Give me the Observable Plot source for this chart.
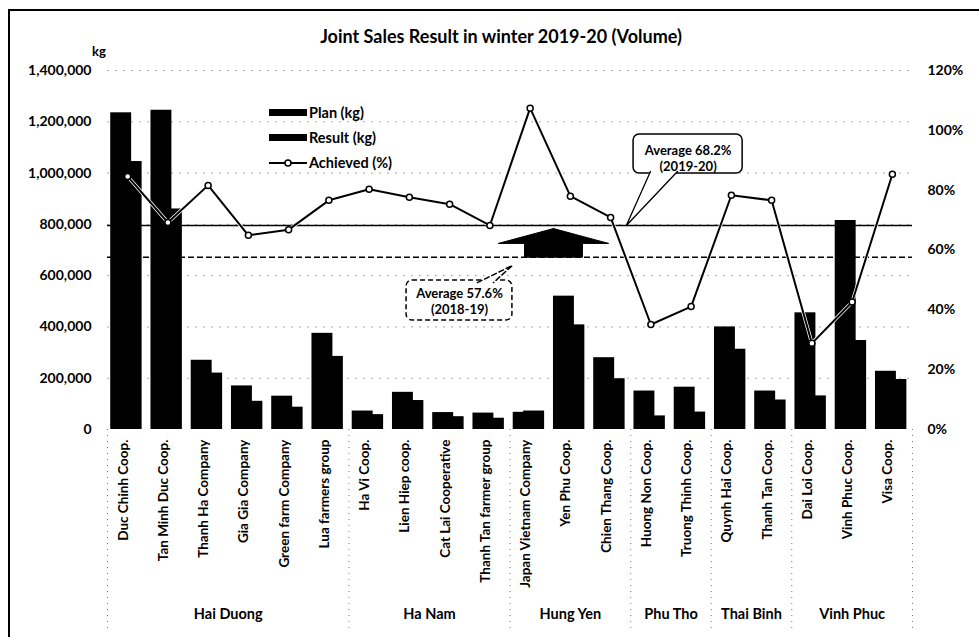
<!DOCTYPE html>
<html>
<head>
<meta charset="utf-8">
<script src="https://cdn.jsdelivr.net/npm/d3@7"></script>
<script src="https://cdn.jsdelivr.net/npm/@observablehq/plot@0.6"></script>
<style>
  html, body { margin: 0; padding: 0; background: #fff; }
  #wrap { position: relative; width: 979px; height: 637px; overflow: hidden; font-family: Lato, "Open Sans", sans-serif; font-weight: bold; color: #000; }
  #frameL { position: absolute; left: 8px; top: 10px; width: 2px; height: 640px; background: #000; }
  #frameT { position: absolute; left: 8px; top: 9px; width: 980px; height: 2px; background: #000; }
  #title { position: absolute; left: 0; width: 1002px; top: 25px; text-align: center; font-size: 18px; }
  #kg { position: absolute; left: 92px; top: 43px; font-size: 13px; }
  #legend { position: absolute; left: 269px; top: 100px; font-size: 14.5px; line-height: 25px; }
  #legend .row { display: flex; align-items: center; height: 25px; }
  #legend .sw { width: 38px; height: 7px; background: #000; margin-right: 2px; }
  #chart svg { display: block; }
</style>
</head>
<body>
<div id="wrap">
  <div id="chart"></div>
  <div id="title">Joint Sales Result in winter 2019-20 (Volume)</div>
  <div id="kg">kg</div>
  <div id="legend"></div>
  <div id="frameL"></div>
  <div id="frameT"></div>
</div>
<script>
// ---------- data ----------
const names = [
  "Duc Chinh Coop.", "Tan Minh Duc Coop.", "Thanh Ha Company", "Gia Gia Company",
  "Green farm Company", "Lua farmers group", "Ha Vi Coop.", "Lien Hiep coop.",
  "Cat Lai Cooperative", "Thanh Tan farmer group", "Japan Vietnam Company",
  "Yen Phu Coop.", "Chien Thang Coop.", "Huong Non Coop.", "Truong Thinh Coop.",
  "Quynh Hai Coop.", "Thanh Tan Coop.", "Dai Loi Coop.", "Vinh Phuc Coop.", "Visa Coop."
];
const plan = [1235000, 1245000, 270000, 170000, 130000, 375000, 72000, 145000, 66000, 64000,
              67000, 520000, 280000, 150000, 165000, 400000, 150000, 455000, 815000, 227000];
const result = [1045000, 860000, 220000, 110000, 87000, 285000, 58000, 113000, 50000, 44000,
                72000, 408000, 198000, 53000, 68000, 313000, 115000, 131000, 347000, 195000];
const achieved = [84.6, 69.2, 81.6, 64.9, 66.8, 76.6, 80.3, 77.6, 75.3, 68.2,
                  107.4, 78.0, 70.9, 35.1, 41.1, 78.3, 76.6, 28.8, 42.6, 85.3];
const regions = ["Hai Duong", "Ha Nam", "Hung Yen", "Phu Tho", "Thai Binh", "Vinh Phuc"];
const regionCounts = [6, 4, 3, 2, 2, 3];
const kgTicks = [0, 200000, 400000, 600000, 800000, 1000000, 1200000, 1400000];
const pctTicks = [0, 20, 40, 60, 80, 100, 120];
const avg2019 = 68.2;
const avg2018 = 57.6;
const legendItems = ["Plan (kg)", "Result (kg)", "Achieved (%)"];

// ---------- derived ----------
const KGMAX = 1400000, PCTMAX = 120;
const toKg = p => p / PCTMAX * KGMAX;
const rows = names.map((n, i) => ({i, name: n, plan: plan[i], result: result[i], ach: achieved[i]}));
let acc = -0.5;
const regionRows = regions.map((r, k) => {
  const a = acc; acc += regionCounts[k];
  return {name: r, x1: a, x2: acc, mid: (a + acc) / 2};
});
const bounds = [-0.5, ...regionRows.map(d => d.x2)];

// annotation geometry (in data units)
const arrowX = 10.58, headHalf = 1.37, shaftHalf = 0.72;
const yTop = toKg(avg2019), yBot = toKg(avg2018);
const yApex = yTop - 12000, yHead = yTop - 70000;
const arrow = [
  [arrowX, yApex], [arrowX + headHalf, yHead], [arrowX + shaftHalf, yHead], [arrowX + shaftHalf, yBot],
  [arrowX - shaftHalf, yBot], [arrowX - shaftHalf, yHead], [arrowX - headHalf, yHead], [arrowX, yApex]
].map(([x, y]) => ({x, y}));

const call1 = {x1: 12.57, x2: 15.28, y1: 998400, y2: 1150500};
const ptr1 = [{x: 12.99, y: 1006000}, {x: 12.39, y: yTop}, {x: 13.66, y: 1006000}];
const call2 = {x1: 6.93, x2: 9.56, y1: 425100, y2: 581100};
const ptr2 = [{x: 8.69, y: 573000}, {x: 9.56, y: 639600}, {x: 9.09, y: 573000}];

const W = 0.52;
const chart = Plot.plot({
  width: 979, height: 637,
  marginLeft: 107, marginRight: 67, marginTop: 70, marginBottom: 208,
  style: {fontFamily: "Lato, 'Open Sans', sans-serif", fontSize: "14px", fontWeight: "bold", background: "white", color: "black", overflow: "visible"},
  x: {domain: [-0.5, 19.5], axis: null},
  y: {domain: [0, KGMAX], ticks: kgTicks, tickFormat: d3.format(","), tickSize: 0, tickPadding: 16, label: null},
  marks: [
    Plot.ruleY(kgTicks.slice(1), {stroke: "#888", strokeDasharray: "2,6", strokeOpacity: 0.7}),
    Plot.ruleX(bounds, {y1: 0, y2: -780000, stroke: "#777", strokeDasharray: "1,5"}),
    Plot.rectY(rows, {x1: d => d.i - 0.42, x2: d => d.i - 0.42 + W, y: "plan", fill: "black"}),
    Plot.rectY(rows, {x1: d => d.i + 0.36 - W, x2: d => d.i + 0.36, y: "result", fill: "black"}),
    Plot.ruleY([toKg(avg2019)], {stroke: "black", strokeWidth: 1.6}),
    Plot.ruleY([toKg(avg2018)], {stroke: "black", strokeWidth: 1.6, strokeDasharray: "6,3"}),
    Plot.line(arrow, {x: "x", y: "y", fill: "black", stroke: "black", strokeWidth: 1}),
    Plot.line(rows, {x: "i", y: d => toKg(d.ach), stroke: "white", strokeWidth: 3.5}),
    Plot.line(rows, {x: "i", y: d => toKg(d.ach), stroke: "black", strokeWidth: 2}),
    Plot.dot(rows, {x: "i", y: d => toKg(d.ach), r: 3, fill: "white", stroke: "black", strokeWidth: 1.5}),
    // callout 2019-20
    Plot.rect([call1], {x1: "x1", x2: "x2", y1: "y1", y2: "y2", fill: "white", stroke: "black", strokeWidth: 1.5, rx: 6}),
    Plot.line(ptr1, {x: "x", y: "y", fill: "white", stroke: "black", strokeWidth: 1.3}),
    Plot.text([`Average ${avg2019}%`, "(2019-20)"], {x: (call1.x1 + call1.x2) / 2, y: (d, k) => k === 0 ? 1088000 : 1026000, text: d => d, fontSize: 13}),
    // callout 2018-19
    Plot.rect([call2], {x1: "x1", x2: "x2", y1: "y1", y2: "y2", fill: "white", stroke: "black", strokeWidth: 1.5, strokeDasharray: "5,3", rx: 6}),
    Plot.line(ptr2, {x: "x", y: "y", fill: "white", stroke: "black", strokeWidth: 1.5, strokeDasharray: "5,3"}),
    Plot.text([`Average ${avg2018}%`, "(2018-19)"], {x: (call2.x1 + call2.x2) / 2, y: (d, k) => k === 0 ? 530400 : 468000, text: d => d, fontSize: 13}),
    // category labels
    Plot.text(rows, {x: "i", text: "name", rotate: -90, textAnchor: "end", frameAnchor: "bottom", dy: 10, fontSize: 13.5}),
    // region labels
    Plot.text(regionRows, {x: "mid", text: "name", frameAnchor: "bottom", dy: 189, fontSize: 14.5}),
    // right axis
    Plot.text(pctTicks, {y: d => toKg(d), text: d => d + "%", frameAnchor: "right", textAnchor: "start", dx: 15, fontSize: 14})
  ]
});
document.getElementById("chart").appendChild(chart);

// legend
const lg = document.getElementById("legend");
legendItems.forEach((t, k) => {
  const row = document.createElement("div");
  row.className = "row";
  if (k < 2) {
    const sw = document.createElement("div");
    sw.className = "sw";
    row.appendChild(sw);
  } else {
    const ns = "http://www.w3.org/2000/svg";
    const s = document.createElementNS(ns, "svg");
    s.setAttribute("width", 40); s.setAttribute("height", 10);
    s.innerHTML = '<line x1="0" y1="5" x2="38" y2="5" stroke="black" stroke-width="2"/><circle cx="19" cy="5" r="3" fill="white" stroke="black" stroke-width="1.5"/>';
    row.appendChild(s);
  }
  const tx = document.createElement("span");
  tx.textContent = t;
  row.appendChild(tx);
  lg.appendChild(row);
});
</script>
</body>
</html>
